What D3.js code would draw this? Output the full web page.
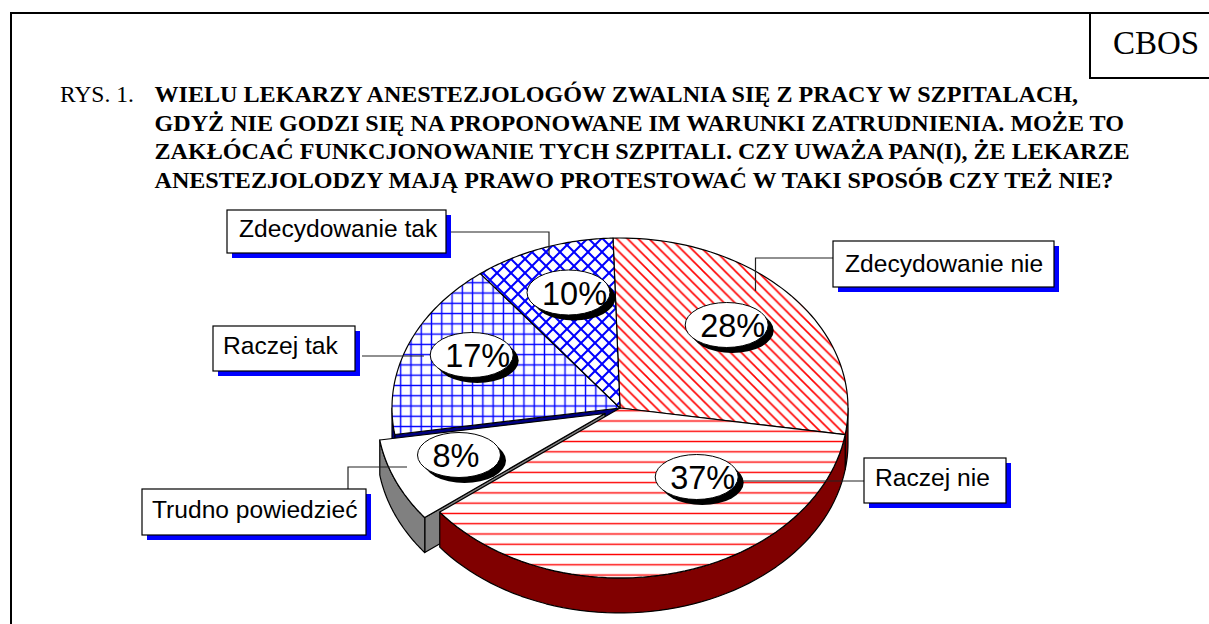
<!DOCTYPE html>
<html>
<head>
<meta charset="utf-8">
<script src="https://cdn.jsdelivr.net/npm/d3@7"></script>
<style>
  body { margin: 0; background: #fff; }
  svg { display: block; }
</style>
</head>
<body>
<div id="chart"></div>
<script>
// Data
const categories = ["Zdecydowanie nie", "Raczej nie", "Trudno powiedzieć", "Raczej tak", "Zdecydowanie tak"];
const shares = [28, 37, 8, 17, 10];
const titleLines = [
    "WIELU LEKARZY ANESTEZJOLOGÓW ZWALNIA SIĘ Z PRACY W SZPITALACH,",
    "GDYŻ NIE GODZI SIĘ NA PROPONOWANE IM WARUNKI ZATRUDNIENIA. MOŻE TO",
    "ZAKŁÓCAĆ FUNKCJONOWANIE TYCH SZPITALI. CZY UWAŻA PAN(I), ŻE LEKARZE",
    "ANESTEZJOLODZY MAJĄ PRAWO PROTESTOWAĆ W TAKI SPOSÓB CZY TEŻ NIE?"
];

// Layout
const width = 1209, height = 624;
const cx = 620, cy = 408, rx = 228, ry = 170, depth = 35;
const rotation = -1.76 * Math.PI / 180;  // first slice starts just left of 12 o'clock
const explode = { dx: -15, dy: 5.5 };  // "Trudno powiedzieć" is pulled out

// per slice styling, same order as categories
const topFill = ["url(#diag)", "url(#hor)", "#fff", "url(#grid)", "url(#cross)"];
const wallFill = ["#800000", "#800000", "#808080", "#000080", "#000080"];
const labelPos = [[726.7, 325], [696.7, 477], [459, 455], [471.7, 355], [568.5, 292.5]];
const boxes = [
    [833, 241, 221, 46], [864, 458, 142, 45], [142, 489, 224, 46], [213, 326, 142, 45], [227, 210, 219, 43]
];
const boxText = [[12, 31], [11, 28], [10, 29], [10, 28], [12, 27]];
const leaders = [
    [[833, 258], [755.5, 258], [755.5, 291]],
    [[864, 481], [740, 481]],
    [[348, 489], [348, 467], [407, 467]],
    [[362, 356], [424, 356]],
    [[450, 232], [549, 232], [549, 256]]
];

const svg = d3.select("#chart").append("svg")
    .attr("width", width)
    .attr("height", height);

// Hatch patterns
const defs = svg.append("defs");
function hatch(id, size, x, y, lines, color, sw) {
    const p = defs.append("pattern")
        .attr("id", id)
        .attr("patternUnits", "userSpaceOnUse")
        .attr("x", x).attr("y", y)
        .attr("width", size).attr("height", size);
    p.append("rect").attr("width", size).attr("height", size).attr("fill", "#fff");
    lines.forEach(l => {
        p.append("line")
            .attr("x1", l[0] * size).attr("y1", l[1] * size)
            .attr("x2", l[2] * size).attr("y2", l[3] * size)
            .attr("stroke", color).attr("stroke-width", sw);
    });
}
hatch("diag", 10.8, 0, 0, [[0, 0, 1, 1], [-0.5, 0.5, 0.5, 1.5], [0.5, -0.5, 1.5, 0.5]], "#f00", 1.6);
hatch("hor", 10.27, 0, 421 - 5.13, [[0, 0.5, 1, 0.5]], "#f00", 1.4);
hatch("grid", 10.27, 400.7 - 5.13, 406 - 5.13, [[0, 0.5, 1, 0.5], [0.5, 0, 0.5, 1]], "#00f", 1.4);
hatch("cross", 14, 0, 0, [[0, 0, 1, 1], [0, 1, 1, 0]], "#00f", 2);

// Page frame and CBOS box
const frame = svg.append("g").attr("fill", "none").attr("stroke", "#000").attr("stroke-width", 2);
frame.append("path").attr("d", `M11,${height} V13 H${width}`);
frame.append("path").attr("d", `M${width},78 H1090 V13`);

svg.append("text")
    .attr("x", 1113).attr("y", 54)
    .style("font", "33px 'Liberation Serif'")
    .text("CBOS");

svg.append("text")
    .attr("x", 60).attr("y", 102)
    .style("font", "23.5px 'Liberation Serif'")
    .text("RYS. 1.");

svg.append("g").selectAll("text")
    .data(titleLines)
    .join("text")
    .attr("x", 154.5)
    .attr("y", (d, i) => 102 + i * 28.5)
    .style("font", "bold 24.1px 'Liberation Serif'")
    .text(d => d);

// Pie: angles from d3.pie, projected on an ellipse
const pie = d3.pie().sort(null)
    .startAngle(rotation)
    .endAngle(rotation + 2 * Math.PI)(shares);
const pt = (a, off) => [
    cx + off.dx + rx * Math.sin(a),
    cy + off.dy - ry * Math.cos(a)
];
const line = d3.line();
const arcPoints = (a0, a1, off) =>
    d3.range(0, 61).map(i => pt(a0 + (a1 - a0) * i / 60, off));

const slices = pie.map((d, i) => ({
    start: d.startAngle,
    end: d.endAngle,
    off: i === 2 ? explode : { dx: 0, dy: 0 },
    top: topFill[i],
    wall: wallFill[i],
    index: i
}));

const g = svg.append("g").attr("stroke", "#000").attr("stroke-width", 1.2).attr("stroke-linejoin", "round");

// cut walls: only the ones that face the viewer show up
function cutWall(s, a) {
    const c = [cx + s.off.dx, cy + s.off.dy];
    const p = pt(a, s.off);
    g.append("path")
        .attr("d", line([c, p, [p[0], p[1] + depth], [c[0], c[1] + depth]]) + "Z")
        .attr("fill", s.wall);
}
cutWall(slices[3], slices[3].start);  // blue, seen in the gap
cutWall(slices[2], slices[2].start);  // grey, seen in the gap

// outer walls, front half of the ellipse only
slices.forEach(s => {
    const a0 = Math.max(s.start, Math.PI / 2);
    const a1 = Math.min(s.end, 3 * Math.PI / 2);
    if (a1 <= a0) return;
    const upper = arcPoints(a0, a1, s.off);
    const lower = upper.map(p => [p[0], p[1] + depth]).reverse();
    g.append("path")
        .attr("d", line(upper.concat(lower)) + "Z")
        .attr("fill", s.wall);
});

// top faces
slices.forEach(s => {
    const c = [cx + s.off.dx, cy + s.off.dy];
    g.append("path")
        .attr("d", line([c].concat(arcPoints(s.start, s.end, s.off))) + "Z")
        .attr("fill", s.top);
});

// Leader lines
svg.append("g").selectAll("path")
    .data(leaders)
    .join("path")
    .attr("d", d => line(d))
    .attr("fill", "none")
    .attr("stroke", "#222")
    .attr("stroke-width", 1.2);

// Percent labels in ellipses with a black drop shadow
const pct = svg.append("g").selectAll("g")
    .data(shares)
    .join("g")
    .attr("transform", (d, i) => `translate(${labelPos[i][0]},${labelPos[i][1]})`);
pct.append("ellipse").attr("cx", 5.5).attr("cy", 5.5).attr("rx", 41.5).attr("ry", 22.5).attr("fill", "#000");
pct.append("ellipse").attr("rx", 41.5).attr("ry", 22.5).attr("fill", "#fff").attr("stroke", "#000").attr("stroke-width", 1);
pct.append("text")
    .attr("x", -26.5)
    .attr("y", 12)
    .style("font", "32.5px 'Liberation Sans'")
    .text(d => d + "%");

// Category boxes with blue shadow
const box = svg.append("g").selectAll("g")
    .data(categories)
    .join("g")
    .attr("transform", (d, i) => `translate(${boxes[i][0]},${boxes[i][1]})`);
box.append("rect")
    .attr("x", 5).attr("y", 5)
    .attr("width", (d, i) => boxes[i][2])
    .attr("height", (d, i) => boxes[i][3])
    .attr("fill", "#00f");
box.append("rect")
    .attr("width", (d, i) => boxes[i][2])
    .attr("height", (d, i) => boxes[i][3])
    .attr("fill", "#fff")
    .attr("stroke", "#000")
    .attr("stroke-width", 1.2);
box.append("text")
    .attr("x", (d, i) => boxText[i][0])
    .attr("y", (d, i) => boxText[i][1])
    .style("font", "24.6px 'Liberation Sans'")
    .text(d => d);
</script>
</body>
</html>
